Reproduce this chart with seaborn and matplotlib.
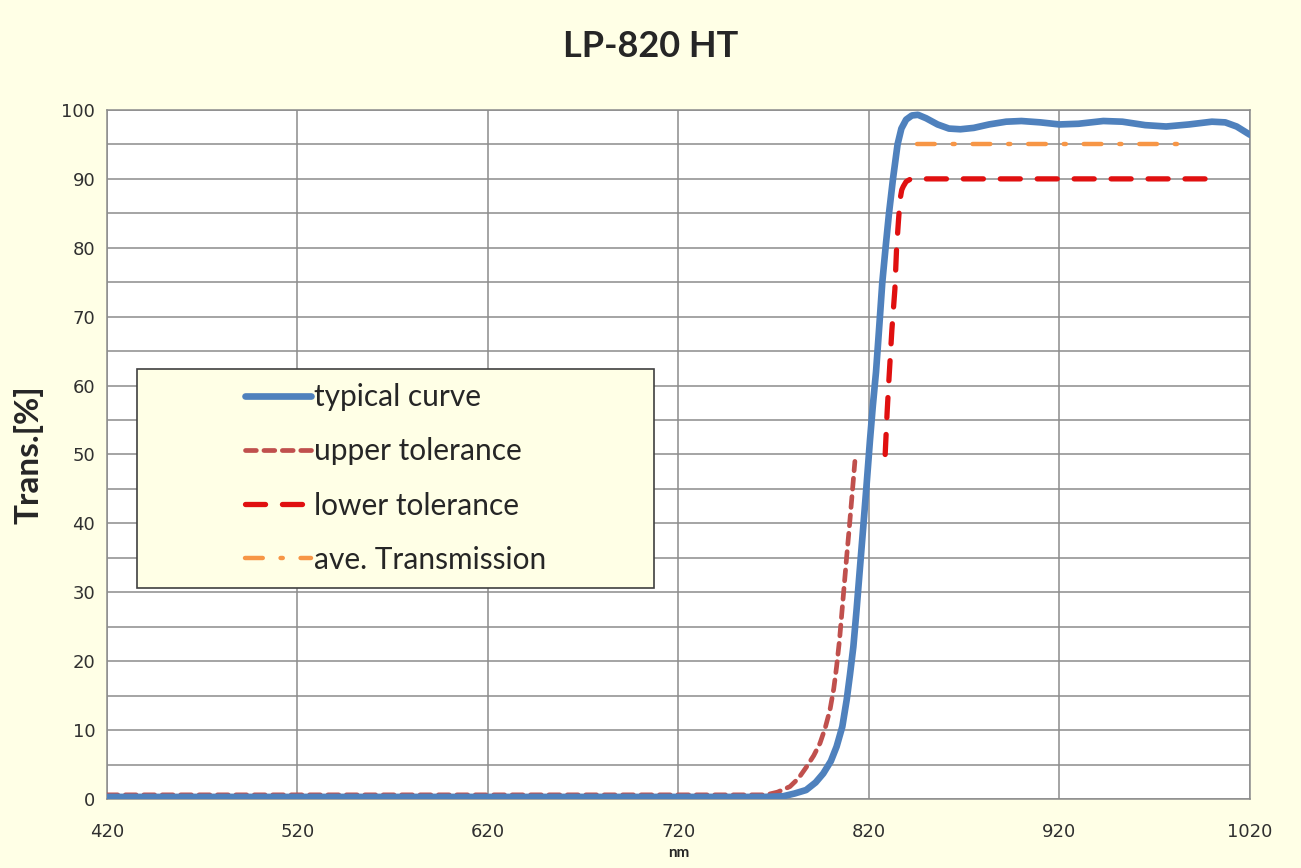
import matplotlib
matplotlib.use("Agg")
import matplotlib.pyplot as plt
from matplotlib.patches import Rectangle
import seaborn as sns

# ================= DATA =================
typ_nm = [420, 520, 620, 720, 765, 775, 781, 787, 792, 796, 800, 803, 806,
          808.3, 810, 811.8, 813.5, 815.3, 817, 818.8, 820.5, 822, 823.7,
          825.5, 827, 828.7, 830.5, 832.6, 835, 837, 839.5, 842.5, 845.7,
          850, 856, 862, 868, 875, 883, 892, 900, 910, 920, 930, 943, 953,
          965, 976, 988, 1000, 1007, 1013, 1020]
typ_T = [0.3, 0.3, 0.3, 0.3, 0.3, 0.4, 0.8, 1.3, 2.4, 3.7, 5.5, 7.6, 10.5,
         14.4, 18, 22.1, 27.5, 33.7, 39.5, 45.8, 52, 57, 62,
         69, 75, 80, 85, 90, 95, 97.3, 98.6, 99.2, 99.3,
         98.8, 97.9, 97.3, 97.2, 97.4, 97.9, 98.3, 98.4, 98.2, 97.9, 98.0,
         98.4, 98.3, 97.8, 97.6, 97.9, 98.3, 98.2, 97.6, 96.4]

upper_nm = [420, 520, 620, 720, 760, 766, 772, 778.5, 783, 787.3, 791, 794.3,
            797, 799.5, 801.5, 803, 804.5, 805.6, 807, 808.3, 809.7, 810.9,
            812, 812.6]
upper_T = [0.6, 0.6, 0.6, 0.6, 0.6, 0.6, 1.0, 1.8, 3.0, 4.7, 6.3, 8.1,
           10.3, 12.9, 16, 19.2, 23, 26.5, 31, 35.2, 39.5, 43.4, 47, 49]

lower_nm = [828.5, 829.5, 830.5, 832, 833.6, 834.5, 835.5, 836.3, 837.2,
            838, 839.5, 842, 1000]
lower_T = [50, 56, 61, 68, 74, 80, 84, 87, 88.4, 88.9, 89.6, 90, 90]

ave_nm = [845, 990]
ave_T = [95, 95]

labels = ["typical curve", "upper tolerance", "lower tolerance",
          "ave. Transmission"]

CREAM = "#FFFFE6"

sns.set_style("white")
plt.rcParams["font.family"] = ["Lato", "DejaVu Sans"]

fig = plt.figure(figsize=(13.01, 8.68), dpi=100, facecolor=CREAM)
ax = fig.add_axes([0.0822, 0.0795, 0.8786, 0.7938])
ax.set_facecolor("white")

# ================= LINES =================
sns.lineplot(x=typ_nm, y=typ_T, ax=ax, color="#4F81BD", linewidth=4.8,
             sort=False, estimator=None, label=labels[0], zorder=4)
sns.lineplot(x=upper_nm, y=upper_T, ax=ax, color="#C0504D", linewidth=3.4,
             sort=False, estimator=None, label=labels[1], zorder=3,
             linestyle=(0, (2.3, 1.6)), dash_capstyle="round")
sns.lineplot(x=lower_nm, y=lower_T, ax=ax, color="#E01010", linewidth=3.8,
             sort=False, estimator=None, label=labels[2], zorder=3,
             linestyle=(0, (3.8, 3.2)), dash_capstyle="round")
sns.lineplot(x=ave_nm, y=ave_T, ax=ax, color="#F79646", linewidth=3.2,
             sort=False, estimator=None, label=labels[3], zorder=3,
             linestyle=(0, (4, 4, 0.5, 4)), dash_capstyle="round")

# ================= AXES =================
ax.set_xlim(420, 1020)
ax.set_ylim(0, 100)
ax.set_xticks(range(420, 1021, 100))
ax.set_yticks(range(0, 101, 10))
ax.set_yticks(range(5, 100, 10), minor=True)
ax.grid(True, which="both", axis="y", color="#8C8C8C", linewidth=1.1)
ax.grid(True, which="major", axis="x", color="#8C8C8C", linewidth=1.1)
ax.set_axisbelow(True)
for side in ["left", "bottom", "right", "top"]:
    ax.spines[side].set_color("#8C8C8C")
    ax.spines[side].set_linewidth(1.1)
ax.tick_params(axis="both", which="major", direction="out", length=5,
               width=1.1, color="#8C8C8C", labelsize=13, labelcolor="#303030")
ax.tick_params(axis="y", which="minor", length=0)
ax.tick_params(axis="x", pad=12)
for lab in ax.get_xticklabels() + ax.get_yticklabels():
    lab.set_family("DejaVu Sans")

ax.set_xlabel("nm", fontsize=11, fontweight="bold", labelpad=4)
ax.set_ylabel("Trans.[%]", fontsize=24, fontweight="bold", labelpad=13)
fig.suptitle("LP-820 HT", fontsize=26, fontweight="bold", y=0.965)

# ================= LEGEND =================
box = Rectangle((0.026, 0.306), 0.4524, 0.318, transform=ax.transAxes,
                facecolor=CREAM, edgecolor="#404040", linewidth=1.2, zorder=5)
ax.add_patch(box)
ax.legend(loc="center", bbox_to_anchor=(0.2524, 0.4652), frameon=False,
          fontsize=21.5, handlelength=2.2, handletextpad=0.1,
          labelspacing=0.88).set_zorder(6)

fig.savefig("out.png", dpi=100, facecolor=CREAM)
